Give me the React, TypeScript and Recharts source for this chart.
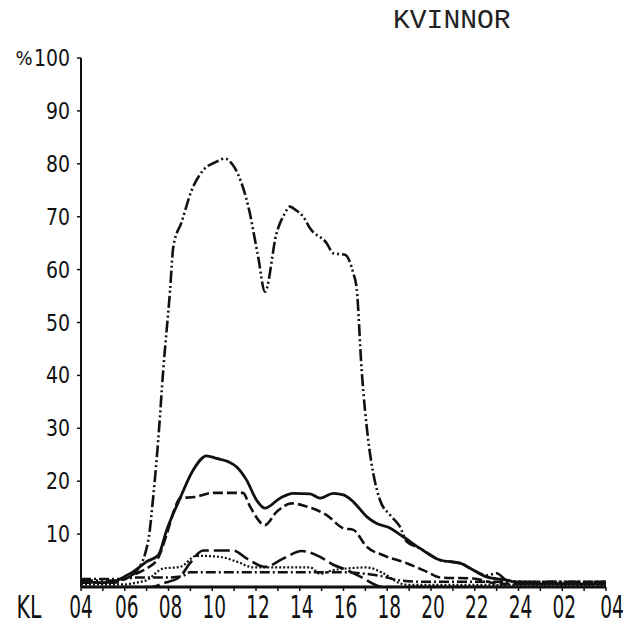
import React from 'react';
import { LineChart, Line, XAxis, YAxis } from 'recharts';

// Clock hour (4 = 04:00, 28 = 04:00 next day) and percentage values per series
const s1Time = [4, 5.5, 6.2, 6.54, 7.08, 7.3, 7.53, 7.76, 8.07, 8.22, 8.6, 9.06, 9.59, 10.2, 10.58, 10.9, 11.19, 11.65, 12.1, 12.41, 12.94, 13.3, 13.55, 13.8, 14.16, 14.47, 15.23, 15.53, 16.07, 16.45, 16.6, 16.83, 17.13, 17.36, 17.67, 18.13, 18.58, 18.89, 19.5, 20.41, 21.33, 21.93, 22.55, 23.0, 23.46, 24.2, 28];
const s1Pct = [1.2, 1.2, 2, 3, 8.9, 17, 27.8, 41, 56, 64.3, 69, 75, 78.8, 80.4, 81, 80, 77.9, 71.9, 62.4, 55.8, 66.9, 70.5, 71.9, 71.3, 70, 67.8, 65, 63.1, 62.8, 59.3, 56.5, 41, 27.8, 21.5, 16.4, 13.6, 11.4, 8.6, 7.3, 5.1, 4.5, 3.2, 2.2, 2.6, 1.3, 1.0, 1.0];

const s2Time = [4, 5, 5.5, 6, 6.39, 7.0, 7.53, 7.92, 8.53, 9.13, 9.74, 10.2, 10.73, 11.12, 11.57, 12.03, 12.41, 13.1, 13.7, 14.47, 14.93, 15.53, 16.0, 16.45, 17.06, 17.52, 18.05, 18.73, 19.5, 20.41, 21.33, 21.93, 22.55, 23.46, 24.2, 28];
const s2Pct = [1.0, 0.8, 1.0, 2.0, 2.9, 4.8, 6.0, 10.8, 16.8, 22.1, 24.8, 24.3, 23.7, 22.7, 20.2, 16.4, 14.9, 16.8, 17.7, 17.6, 16.8, 17.7, 17.4, 16.1, 13.3, 12.0, 11.3, 9.5, 7.3, 5.1, 4.5, 3.2, 1.9, 1.3, 0.6, 0.6];

const s3Time = [4, 5.5, 6, 6.5, 7.0, 7.53, 7.92, 8.3, 8.53, 9.2, 10.05, 11.4, 11.73, 12.41, 12.94, 13.63, 14.32, 15.23, 16.0, 16.45, 17.06, 17.82, 18.89, 19.8, 20.41, 21.93, 23.15, 28];
const s3Pct = [0.8, 0.8, 1.5, 2.5, 3.5, 5.5, 10, 15, 16.8, 17.0, 17.8, 17.8, 15.2, 11.7, 14.2, 15.8, 15.2, 13.6, 11.1, 10.8, 7.6, 6.0, 4.5, 2.9, 1.8, 1.6, 0.6, 0.6];

const s4Time = [4, 7.2, 7.76, 8.53, 8.98, 9.59, 10.96, 11.57, 12.41, 13.25, 14.09, 14.93, 15.53, 16.15, 16.75, 17.82, 28];
const s4Pct = [0, 0, 0.7, 2.0, 4.5, 6.9, 6.9, 5.4, 3.8, 5.4, 6.8, 5.7, 4.2, 3.2, 2.0, 0, 0];

const s5Time = [4, 6, 6.5, 7.0, 7.76, 8.53, 9.29, 10.35, 11.12, 11.88, 14.47, 14.93, 15.53, 16.15, 17.06, 17.82, 18.58, 19.0, 28];
const s5Pct = [0.5, 0.5, 0.8, 1.3, 3.5, 3.8, 5.9, 5.7, 4.8, 3.7, 3.7, 2.5, 3.2, 3.5, 3.7, 2.6, 0.7, 0.4, 0.4];

const s6Time = [4, 6, 6.5, 8.0, 8.6, 9.0, 16.0, 17.0, 17.8, 18.5, 19.5, 28];
const s6Pct = [1.5, 1.5, 1.8, 1.8, 2.0, 2.8, 2.8, 2.5, 2.0, 1.3, 1.0, 1.0];

const xTicks = [4, 5, 6, 7, 8, 9, 10, 11, 12, 13, 14, 15, 16, 17, 18, 19, 20, 21, 22, 23, 24, 25, 26, 27, 28];
const xTickLabels = ['04', '06', '08', '10', '12', '14', '16', '18', '20', '22', '24', '02', '04'];
const yTicks = [10, 20, 30, 40, 50, 60, 70, 80, 90, 100];
const title = 'KVINNOR';
const xAxisName = 'KL';
const yUnit = '%';

const toData = (t: number[], v: number[]) => t.map((h, i) => ({ t: h, v: v[i] }));

const series = [
  { name: 's1', data: toData(s1Time, s1Pct), dash: '12 3 2 3 2 3', width: 2.6 },
  { name: 's2', data: toData(s2Time, s2Pct), dash: undefined, width: 2.8 },
  { name: 's3', data: toData(s3Time, s3Pct), dash: '10 4', width: 2.6 },
  { name: 's4', data: toData(s4Time, s4Pct), dash: '16 5', width: 2.6 },
  { name: 's5', data: toData(s5Time, s5Pct), dash: '2 2', width: 2.2 },
  { name: 's6', data: toData(s6Time, s6Pct), dash: '10 3 2 3', width: 2.4 },
];

const FONT = '"DejaVu Sans", sans-serif';

const XTick = (props: any) => {
  const { x, payload } = props;
  const v = payload.value as number;
  if ((v - 4) % 2 !== 0) return <g />;
  const idx = (v - 4) / 2;
  const label = xTickLabels[idx];
  const dx = idx === xTickLabels.length - 1 ? 6 : idx > 0 ? 2 : 0;
  return (
    <g>
      {idx === 0 && (
        <text transform={`translate(29,618) scale(0.64,1)`} textAnchor="middle" fontSize={32} fontFamily={FONT} fill="#111">
          {xAxisName}
        </text>
      )}
      <text transform={`translate(${x + dx},618) scale(0.58,1)`} textAnchor="middle" fontSize={32} fontFamily={FONT} fill="#111">
        {label}
      </text>
    </g>
  );
};

const YTick = (props: any) => {
  const { y, payload } = props;
  const v = payload.value as number;
  return (
    <g>
      {v === 100 && (
        <text transform={`translate(24,${y + 7}) scale(0.9,1)`} textAnchor="middle" fontSize={20} fontFamily={FONT} fill="#111">
          {yUnit}
        </text>
      )}
      <text transform={`translate(70,${y + 8}) scale(0.82,1)`} textAnchor="end" fontSize={23} fontFamily={FONT} fill="#111">
        {String(v)}
      </text>
    </g>
  );
};

export default function App() {
  return (
    <div style={{ position: 'absolute', left: 0, top: 0, width: 640, height: 627, background: '#fff' }}>
      <div
        style={{
          position: 'absolute',
          left: 393,
          top: 7,
          fontFamily: '"Liberation Mono", monospace',
          fontSize: 28,
          lineHeight: '28px',
          color: '#222',
          whiteSpace: 'nowrap',
        }}
      >
        {title}
      </div>
      <LineChart width={640} height={627} margin={{ top: 58, right: 34, bottom: 0, left: 21 }}>
        <XAxis
          type="number"
          dataKey="t"
          domain={[4, 28]}
          ticks={xTicks}
          interval={0}
          allowDataOverflow
          height={40}
          axisLine={{ stroke: '#111', strokeWidth: 3 }}
          tickLine={{ stroke: '#111', strokeWidth: 1.5 }}
          tickSize={4}
          tick={<XTick />}
        />
        <YAxis
          type="number"
          domain={[0, 100]}
          ticks={yTicks}
          interval={0}
          allowDataOverflow
          width={60}
          axisLine={{ stroke: '#111', strokeWidth: 2 }}
          tickLine={{ stroke: '#111', strokeWidth: 1.5 }}
          tickSize={4}
          tick={<YTick />}
        />
        {series.map((s) => (
          <Line
            key={s.name}
            data={s.data}
            dataKey="v"
            type="monotone"
            stroke="#111"
            strokeWidth={s.width}
            strokeDasharray={s.dash}
            dot={false}
            activeDot={false}
            isAnimationActive={false}
          />
        ))}
      </LineChart>
    </div>
  );
}
